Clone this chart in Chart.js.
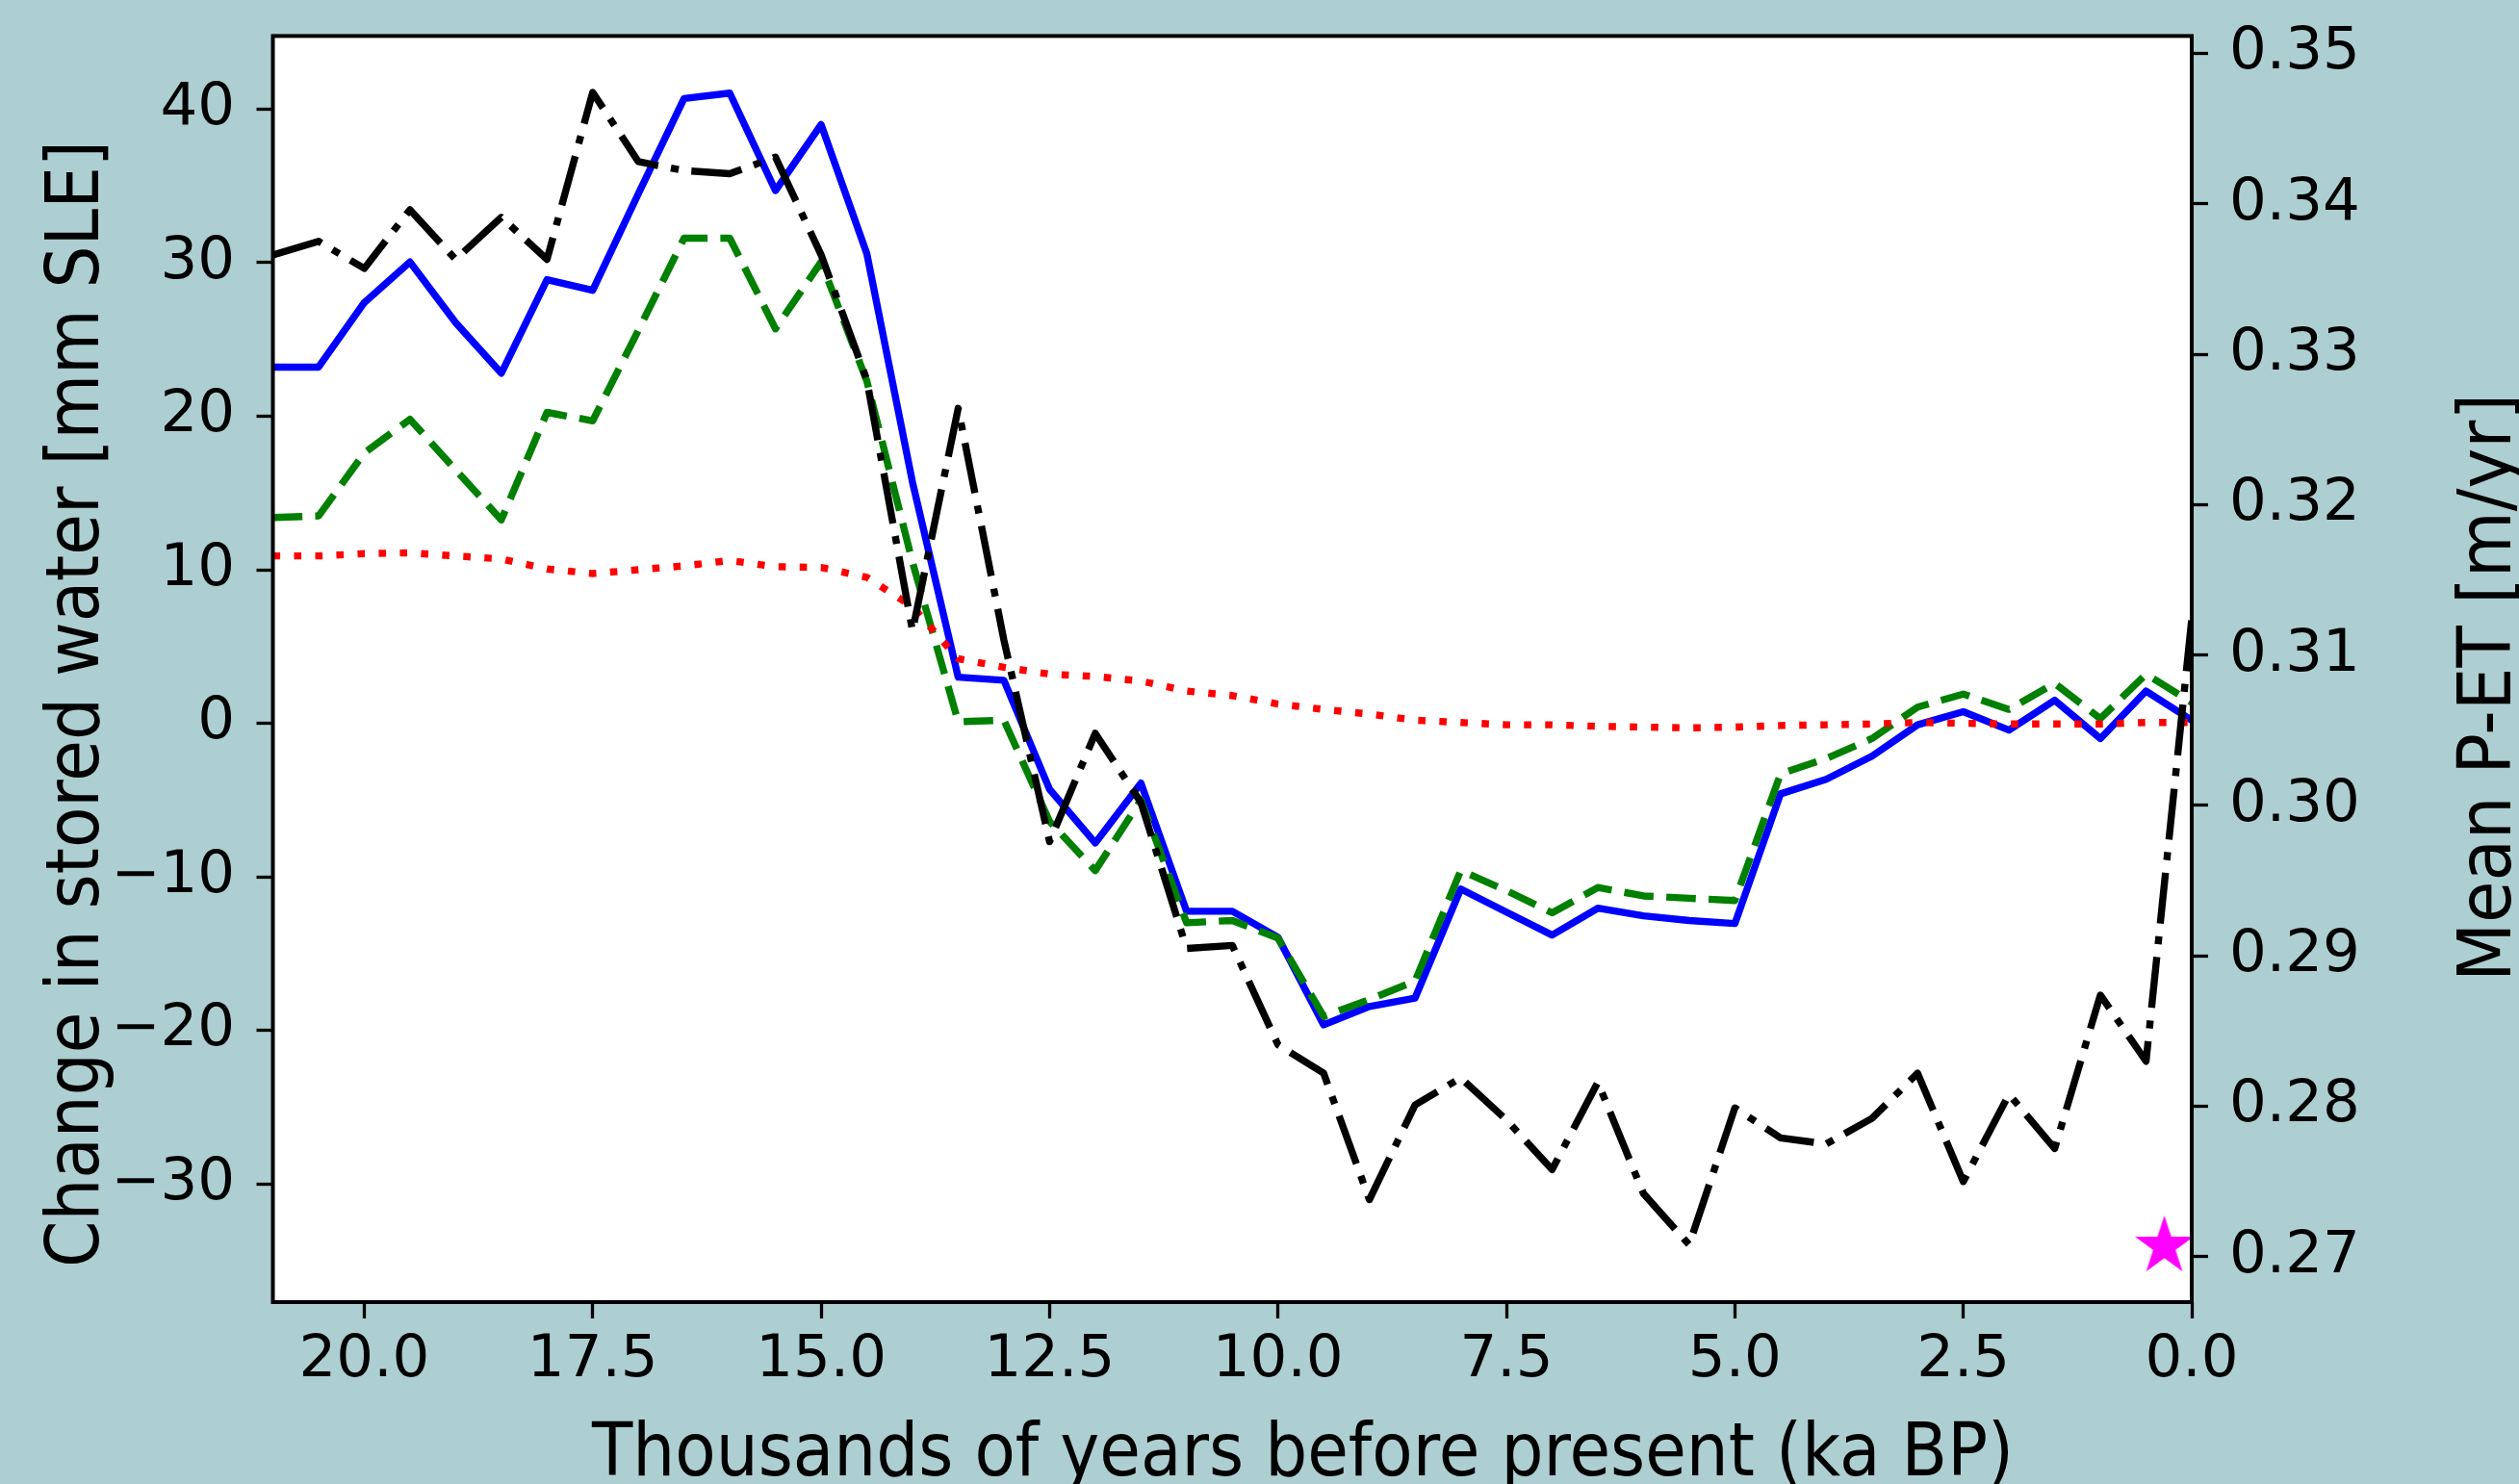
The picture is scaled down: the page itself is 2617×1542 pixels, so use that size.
<!DOCTYPE html>
<html>
<head>
<meta charset="utf-8">
<style>
  html, body { margin: 0; padding: 0; background: #aecfd2; }
  #wrap { width: 2617px; height: 1542px; position: relative; }
  canvas { display: block; }
</style>
<script src="https://cdn.jsdelivr.net/npm/chart.js@4.4.1/dist/chart.umd.min.js"></script>
</head>
<body>
<div id="wrap"><canvas id="chart" width="2617" height="1542"></canvas></div>
<script>
// Age of each sample, thousands of years before present
const ageKa = [21.0, 20.5, 20.0, 19.5, 19.0, 18.5, 18.0, 17.5, 17.0, 16.5, 16.0, 15.5, 15.0, 14.5,
               14.0, 13.5, 13.0, 12.5, 12.0, 11.5, 11.0, 10.5, 10.0, 9.5, 9.0, 8.5, 8.0, 7.5,
               7.0, 6.5, 6.0, 5.5, 5.0, 4.5, 4.0, 3.5, 3.0, 2.5, 2.0, 1.5, 1.0, 0.5, 0.0];

// Change in stored water [mm SLE] (left axis)
const storageSolid = [23.2, 23.2, 27.4, 30.05, 26.1, 22.8, 28.9, 28.2, 34.5, 40.7, 41.05, 34.7, 39.0, 30.6,
                      15.7, 3.0, 2.8, -4.3, -7.8, -3.9, -12.25, -12.25, -13.95, -19.65, -18.45, -17.9, -10.8, -12.3,
                      -13.8, -12.05, -12.55, -12.85, -13.05, -4.6, -3.65, -2.15, -0.1, 0.75, -0.45, 1.5, -1.0, 2.1, 0.2];
const storageDashed = [13.4, 13.5, 17.6, 19.8, 16.5, 13.25, 20.25, 19.7, 25.6, 31.6, 31.6, 25.7, 30.05, 22.3,
                       10.5, 0.1, 0.2, -6.4, -9.6, -5.0, -13.0, -12.85, -14.0, -19.1, -18.0, -16.8, -9.6, -10.9,
                       -12.35, -10.7, -11.25, -11.4, -11.55, -3.3, -2.3, -1.0, 1.05, 1.9, 0.9, 2.6, 0.3, 3.2, 1.35];
const storageDotted = [10.9, 10.9, 11.05, 11.1, 10.9, 10.7, 10.05, 9.75, 10.0, 10.25, 10.6, 10.2, 10.15, 9.5,
                       7.6, 4.2, 3.65, 3.2, 3.05, 2.75, 2.1, 1.8, 1.25, 0.9, 0.6, 0.2, 0.05, -0.1,
                       -0.1, -0.2, -0.25, -0.3, -0.25, -0.15, -0.1, -0.05, 0.05, 0.0, -0.05, -0.05, -0.05, 0.05, 0.05];

// Mean P-ET [m/yr] (right axis)
const meanPET = [0.3366, 0.3375, 0.3357, 0.3396, 0.3363, 0.3391, 0.3363, 0.3474, 0.3428, 0.3422, 0.3420, 0.3431, 0.3366, 0.3283,
                 0.3116, 0.3264, 0.3110, 0.2976, 0.3048, 0.3002, 0.2905, 0.2907, 0.2841, 0.2822, 0.2738, 0.2801, 0.2819, 0.2791,
                 0.2758, 0.2816, 0.2742, 0.2708, 0.2799, 0.2779, 0.2775, 0.2792, 0.2822, 0.2750, 0.2808, 0.2772, 0.2874, 0.2830, 0.3124];

// Present-day reference value of P-ET
const presentAgeKa = [0.3];
const presentPET = [0.2707];

// Axis ticks and limits
const xTicks = [20.0, 17.5, 15.0, 12.5, 10.0, 7.5, 5.0, 2.5, 0.0];
const leftTicks = [-30, -20, -10, 0, 10, 20, 30, 40];
const rightTicks = [0.27, 0.28, 0.29, 0.30, 0.31, 0.32, 0.33, 0.34, 0.35];
const xLimits = [0, 21];
const leftLimits = [-37.71, 44.77];
const rightLimits = [0.26699, 0.35115];

const xTitle = 'Thousands of years before present (ka BP)';
const leftTitle = 'Change in stored water [mm SLE]';
const rightTitle = 'Mean P-ET [m/yr]';

const BG = '#aecfd2';
const TICK_FONT = { family: 'DejaVu Sans', size: 61 };
const LINE_W = 7.4;

function series(xs, ys) { return xs.map((x, i) => ({ x: x, y: ys[i] })); }

// Filled five-pointed star used as the marker image
function starMarker(radius, color) {
  const c = document.createElement('canvas');
  const size = Math.ceil(radius * 2 + 4);
  c.width = size; c.height = size;
  const g = c.getContext('2d');
  const cx = size / 2, cy = size / 2, inner = radius * 0.381966;
  g.beginPath();
  for (let k = 0; k < 10; k++) {
    const r = k % 2 === 0 ? radius : inner;
    const a = -Math.PI / 2 + k * Math.PI / 5;
    const px = cx + r * Math.cos(a), py = cy + r * Math.sin(a);
    if (k === 0) g.moveTo(px, py); else g.lineTo(px, py);
  }
  g.closePath();
  g.fillStyle = color;
  g.fill();
  return c;
}

// White axes face behind the data, figure colour around it
const facePlugin = {
  id: 'face',
  beforeDraw(chart) {
    const { ctx, chartArea: a } = chart;
    ctx.save();
    ctx.fillStyle = BG;
    ctx.fillRect(0, 0, chart.width, chart.height);
    ctx.fillStyle = '#ffffff';
    ctx.fillRect(a.left, a.top, a.right - a.left, a.bottom - a.top);
    ctx.restore();
  }
};

// Box frame around the plotting area
const framePlugin = {
  id: 'frame',
  afterDatasetsDraw(chart) {
    const { ctx, chartArea: a } = chart;
    ctx.save();
    ctx.strokeStyle = '#000';
    ctx.lineWidth = 4;
    ctx.strokeRect(a.left, a.top, a.right - a.left, a.bottom - a.top);
    ctx.restore();
  }
};

// Axis titles, set in a narrow face
function drawTitle(ctx, text, x, y, angle, advance) {
  ctx.save();
  ctx.font = '77px "DejaVu Sans"';
  ctx.fillStyle = '#000';
  ctx.textAlign = 'left';
  ctx.textBaseline = 'alphabetic';
  const w = ctx.measureText(text).width;
  ctx.translate(x, y);
  ctx.rotate(angle);
  ctx.scale(advance / w, 1);
  ctx.fillText(text, 0, 0);
  ctx.restore();
}
const titlePlugin = {
  id: 'titles',
  afterDraw(chart) {
    const ctx = chart.ctx;
    drawTitle(ctx, xTitle, 615, 1533.3, 0, 1477);
    drawTitle(ctx, leftTitle, 102.3, 1317, -Math.PI / 2, 1171);
    drawTitle(ctx, rightTitle, 2608.3, 1020, -Math.PI / 2, 611);
  }
};

function axisGrid() {
  return { drawOnChartArea: false, drawTicks: true, tickLength: 17, tickWidth: 3.3, tickColor: '#000' };
}
function fixHeight(h) {
  return s => { s.height = h; s.paddingLeft = 0; s.paddingRight = 0; };
}
function fixWidth(w) {
  return s => { s.width = w; s.paddingTop = 0; s.paddingBottom = 0; };
}

new Chart(document.getElementById('chart'), {
  type: 'line',
  data: {
    datasets: [
      {
        data: series(presentAgeKa, presentPET), yAxisID: 'yRight', showLine: false,
        pointStyle: starMarker(32, '#ff00ff'), pointRadius: 32, clip: false, order: 0
      },
      {
        data: series(ageKa, meanPET), yAxisID: 'yRight',
        borderColor: '#000000', borderWidth: LINE_W, borderDash: [53, 13.3, 8.3, 13.3], order: 1
      },
      {
        data: series(ageKa, storageDotted), yAxisID: 'yLeft',
        borderColor: '#ff0000', borderWidth: LINE_W, borderDash: [7.6, 14.4], order: 2
      },
      {
        data: series(ageKa, storageDashed), yAxisID: 'yLeft',
        borderColor: '#008000', borderWidth: LINE_W, borderDash: [30.7, 13.3], order: 3
      },
      {
        data: series(ageKa, storageSolid), yAxisID: 'yLeft',
        borderColor: '#0000ff', borderWidth: LINE_W, order: 4
      }
    ]
  },
  options: {
    responsive: false,
    devicePixelRatio: 1,
    animation: false,
    events: [],
    layout: { padding: { top: 37.4, left: 0, right: 0, bottom: 0 } },
    plugins: { legend: { display: false }, tooltip: { enabled: false } },
    elements: {
      line: { tension: 0, fill: false, borderCapStyle: 'butt', borderJoinStyle: 'round' },
      point: { radius: 0 }
    },
    scales: {
      x: {
        type: 'linear', position: 'bottom', reverse: true,
        min: xLimits[0], max: xLimits[1],
        afterBuildTicks: s => { s.ticks = xTicks.map(v => ({ value: v })); },
        afterFit: fixHeight(189),
        grid: axisGrid(),
        border: { display: false },
        ticks: {
          autoSkip: false, maxRotation: 0, minRotation: 0, padding: 8, color: '#000', font: TICK_FONT,
          callback: v => Number(v).toFixed(1)
        }
      },
      yLeft: {
        type: 'linear', position: 'left',
        min: leftLimits[0], max: leftLimits[1],
        afterBuildTicks: s => { s.ticks = leftTicks.map(v => ({ value: v })); },
        afterFit: fixWidth(283.5),
        grid: axisGrid(),
        border: { display: false },
        ticks: {
          autoSkip: false, padding: 22.5, color: '#000', font: TICK_FONT,
          callback: v => (v < 0 ? '\u2212' + Math.abs(v) : String(v))
        }
      },
      yRight: {
        type: 'linear', position: 'right',
        min: rightLimits[0], max: rightLimits[1],
        afterBuildTicks: s => { s.ticks = rightTicks.map(v => ({ value: v })); },
        afterFit: fixWidth(340),
        grid: axisGrid(),
        border: { display: false },
        ticks: {
          autoSkip: false, padding: 22, color: '#000', font: TICK_FONT,
          callback: v => Number(v).toFixed(2)
        }
      }
    }
  },
  plugins: [facePlugin, framePlugin, titlePlugin]
});
</script>
</body>
</html>
